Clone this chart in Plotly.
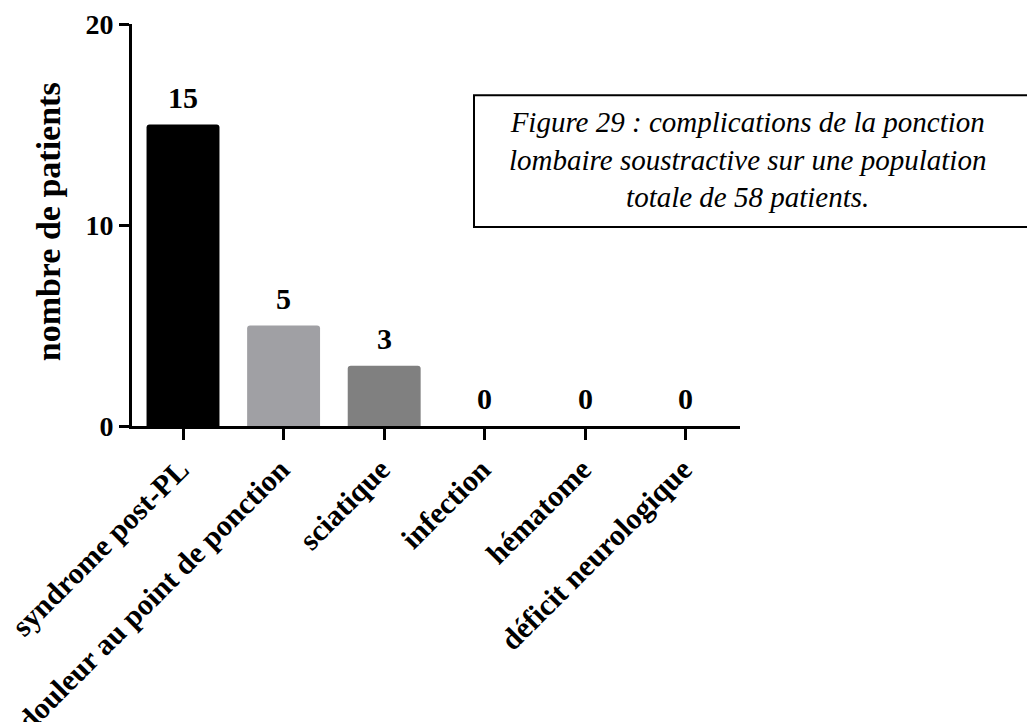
import plotly.graph_objects as go

categories = ["syndrome post-PL", "douleur au point de ponction", "sciatique",
              "infection", "hématome", "déficit neurologique"]
values = [15, 5, 3, 0, 0, 0]
bar_colors = ["#000000", "#a0a0a4", "#808080", "#606060", "#606060", "#606060"]
y_ticks = [0, 10, 20]
y_title = "nombre de patients"
caption = ("Figure 29 : complications de la ponction<br>"
           "lombaire soustractive sur une population<br>"
           "totale de 58 patients.")

SERIF = "Liberation Serif, Times New Roman, serif"

fig = go.Figure()
fig.add_trace(go.Bar(
    x=categories, y=values,
    marker=dict(color=bar_colors, line=dict(width=0), cornerradius=3),
    width=0.725,
    hoverinfo="skip",
))

# value labels above bars
for c, v in zip(categories, values):
    fig.add_annotation(x=c, y=v, text=str(v), showarrow=False,
                       xref="x", yref="y", yanchor="bottom", yshift=9,
                       font=dict(family=SERIF, size=30, color="black", weight="bold"))

# y axis title
fig.add_annotation(x=-0.138, y=0.507, xref="paper", yref="paper",
                   text="<b>" + y_title + "</b>", textangle=-90, showarrow=False,
                   xanchor="center", yanchor="middle",
                   font=dict(family=SERIF, size=34, color="black"))

# caption box
fig.add_shape(type="rect", xref="paper", yref="paper",
              x0=0.5625, x1=1.55, y0=0.495, y1=0.823,
              line=dict(color="black", width=2), fillcolor="rgba(0,0,0,0)")
fig.add_annotation(x=1.013, y=0.662, xref="paper", yref="paper",
                   text="<i>" + caption + "</i>", showarrow=False,
                   xanchor="center", yanchor="middle", align="center",
                   font=dict(family=SERIF, size=29, color="black"))

fig.update_layout(
    width=1027, height=714,
    margin=dict(l=124, r=295, t=16, b=296, autoexpand=False),
    paper_bgcolor="white", plot_bgcolor="white",
    showlegend=False,
    bargap=0.275,
)
fig.update_xaxes(
    range=[-0.507, 5.537], showline=True, linecolor="black", linewidth=3,
    ticks="outside", ticklen=11, tickwidth=3, tickcolor="black",
    tickangle=-45, ticklabelshift=-3, showgrid=False, zeroline=False, automargin=False,
    tickfont=dict(family=SERIF, size=30, color="black", weight="bold"),
)
fig.update_yaxes(
    range=[0, 20], tickvals=y_ticks, showline=True, linecolor="black", linewidth=3,
    ticks="outside", ticklen=10, tickwidth=3, tickcolor="black",
    showgrid=False, zeroline=False, automargin=False,
    tickfont=dict(family=SERIF, size=28, color="black", weight="bold"),
)

fig.write_html("out.html")
